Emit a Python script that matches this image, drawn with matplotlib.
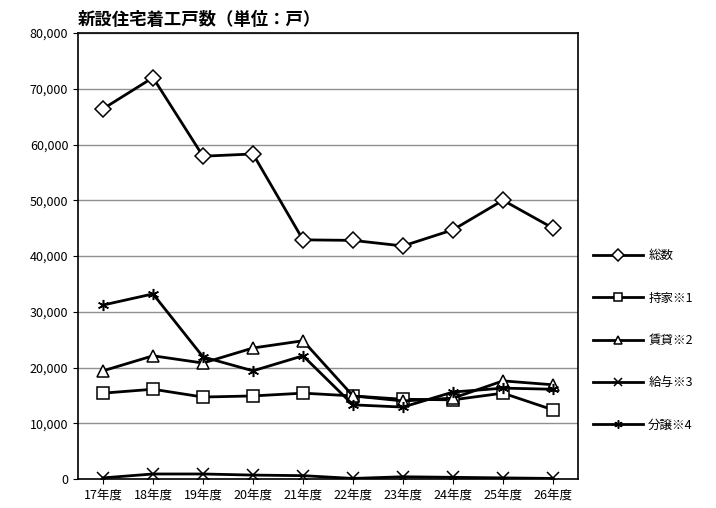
import matplotlib
matplotlib.use("Agg")
import matplotlib.pyplot as plt
from matplotlib.ticker import FuncFormatter

plt.rcParams['font.family'] = ['Noto Sans CJK JP', 'DejaVu Sans']

years = ["17年度","18年度","19年度","20年度","21年度","22年度","23年度","24年度","25年度","26年度"]
total = [66400, 72000, 57900, 58300, 42900, 42800, 41800, 44700, 50000, 45000]
owned = [15400, 16100, 14700, 14900, 15400, 14900, 14300, 14200, 15400, 12400]
rental = [19400, 22100, 20800, 23500, 24800, 14900, 14000, 14500, 17600, 16900]
issued = [200, 900, 900, 700, 600, 100, 400, 300, 200, 100]
sale = [31200, 33200, 21900, 19400, 22100, 13300, 12900, 15600, 16300, 16100]

series = [("総数", total, "D"), ("持家※1", owned, "s"), ("賃貸※2", rental, "^"),
          ("給与※3", issued, "x"), ("分譲※4", sale, (6, 2, 0))]

fig = plt.figure(figsize=(7.16, 5.08), dpi=100)
ax = fig.add_axes([78/716, 1-479/508, 500/716, 446/508])
x = list(range(len(years)))
handles = []
for name, vals, m in series:
    h, = ax.plot(x, vals, color="black", lw=2, marker=m, markersize=8,
                 markerfacecolor="white", markeredgecolor="black", markeredgewidth=1.1, label=name)
    handles.append(h)
ax.set_xlim(-0.5, 9.5)
ax.set_ylim(0, 80000)
ax.set_yticks(range(0, 80001, 10000))
ax.yaxis.set_major_formatter(FuncFormatter(lambda v, p: f"{int(v):,}"))
ax.set_xticks(x)
ax.set_xticklabels(years, fontsize=9)
ax.tick_params(axis='y', labelsize=9)
ax.grid(axis='y', color='#909090', lw=1)
ax.set_axisbelow(True)
for s in ax.spines.values():
    s.set_color('black'); s.set_linewidth(1.2)
fig.text(78/716, 1-20/508, "新設住宅着工戸数（単位：戸）", fontsize=12.5, fontweight='bold', va='center', ha='left')
fig.legend(handles=handles, loc='upper left', bbox_to_anchor=(582/716, 1-238/508),
           frameon=False, fontsize=9, handlelength=4, labelspacing=2.35, handletextpad=0.4,
           markerscale=0.75)
fig.savefig("out.png", dpi=100)
